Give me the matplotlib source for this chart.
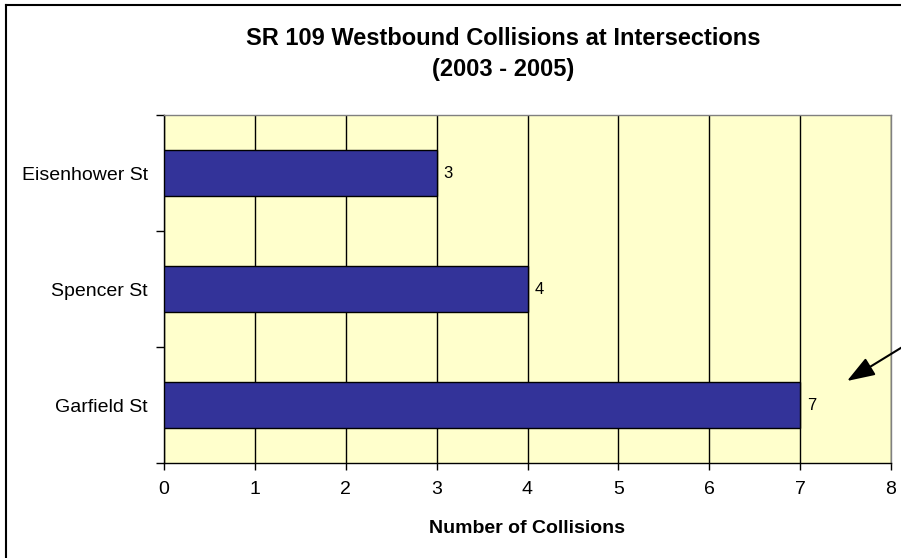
# ============================================================
# SR 109 WESTBOUND COLLISIONS AT INTERSECTIONS (2003 - 2005)
# Horizontal bar chart, Excel-style look
# ============================================================

import matplotlib
matplotlib.use("Agg")
import matplotlib.pyplot as plt
from matplotlib.lines import Line2D

# ============================================================
# STEP 1: Data
# ============================================================

intersections = ["Garfield St", "Spencer St", "Eisenhower St"]  # bottom -> top
collisions    = [7, 4, 3]
x_ticks       = [0, 1, 2, 3, 4, 5, 6, 7, 8]

title_line1 = "SR 109 Westbound Collisions at Intersections"
title_line2 = "(2003 - 2005)"
x_label     = "Number of Collisions"

# ============================================================
# STEP 2: Figure & Axes
# ============================================================

plt.rcParams["font.family"] = ["Liberation Sans", "DejaVu Sans"]

W, H = 901, 558
fig = plt.figure(figsize=(W / 100, H / 100), dpi=100)
fig.patch.set_facecolor("white")

# plot area: x 164..891 px, y 115..463 px
ax = fig.add_axes([164 / W, 1 - 463 / H, (891 - 164) / W, (463 - 115) / H])
ax.set_facecolor("#FFFFCC")

ypos = list(range(len(intersections)))
ax.barh(ypos, collisions, height=0.4, color="#333399",
        edgecolor="black", linewidth=1, zorder=3)

# data labels to the right of each bar
for y, v in zip(ypos, collisions):
    ax.annotate(str(v), xy=(v, y), xytext=(5, 0), textcoords="offset points",
                ha="left", va="center", fontsize=12, zorder=4)

# ============================================================
# STEP 3: Axes styling
# ============================================================

ax.set_xlim(x_ticks[0], x_ticks[-1])
ax.set_ylim(-0.5, len(intersections) - 0.5)

ax.set_xticks(x_ticks)
ax.set_xticklabels([str(t) for t in x_ticks], fontsize=14)
ax.tick_params(axis="x", direction="out", length=5, width=1, pad=8)
ax.xaxis.grid(True, color="black", linewidth=1, zorder=1)
ax.set_axisbelow(True)

# category labels centred, ticks on the category boundaries
ax.set_yticks(ypos)
ax.set_yticklabels(intersections, fontsize=14)
ax.tick_params(axis="y", which="major", length=0, pad=11.5)
ax.set_yticks([i - 0.5 for i in range(len(intersections) + 1)], minor=True)
ax.tick_params(axis="y", which="minor", direction="out", length=6, width=1)

ax.spines["left"].set_color("black")
ax.spines["bottom"].set_color("black")
ax.spines["top"].set_color("#808080")
ax.spines["right"].set_color("#808080")
for s in ax.spines.values():
    s.set_linewidth(1)

# ============================================================
# STEP 4: Titles, arrow and chart border
# ============================================================

fig.text(503 / W, 1 - 45 / H, title_line1, ha="center", va="baseline",
         fontsize=17, fontweight="bold")
fig.text(503 / W, 1 - 76 / H, title_line2, ha="center", va="baseline",
         fontsize=17, fontweight="bold")
fig.text(527 / W, 1 - 533 / H, x_label, ha="center", va="baseline",
         fontsize=14, fontweight="bold")

# arrow coming in from the right edge
ax.annotate("", xy=(847, H - 381), xycoords="figure pixels",
            xytext=(935, H - 327), textcoords="figure pixels",
            arrowprops=dict(arrowstyle="-|>,head_length=1.7,head_width=0.6",
                            color="black", lw=1.5, shrinkA=0, shrinkB=0),
            annotation_clip=False)

# chart-area border (right and bottom cut off by the crop)
fig.add_artist(Line2D([5.5 / W, 5.5 / W], [0, 1 - 4.5 / H],
                      transform=fig.transFigure, color="black", lw=1.5))
fig.add_artist(Line2D([5.5 / W, 1], [1 - 4.5 / H, 1 - 4.5 / H],
                      transform=fig.transFigure, color="black", lw=1.5))

fig.savefig("out.png", dpi=100)
